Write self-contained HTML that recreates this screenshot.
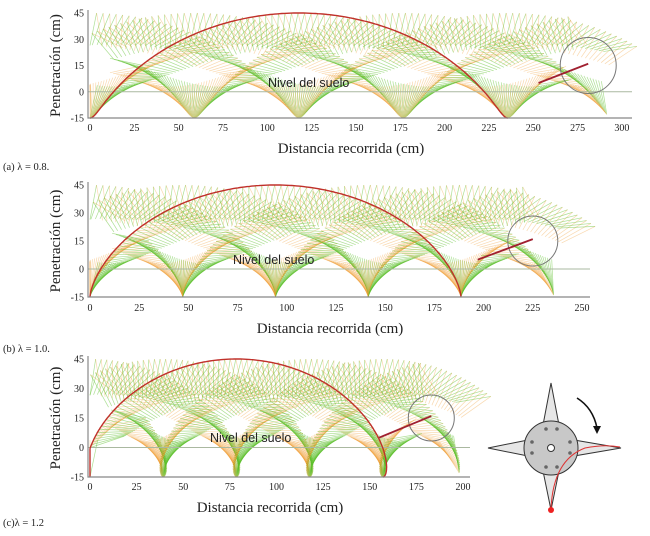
<!DOCTYPE html>
<html><head><meta charset="utf-8"><style>
body{margin:0;background:#fff;}
svg{display:block;}
.tk{font-family:"Liberation Serif",serif;font-size:10px;fill:#222;}
.tt{font-family:"Liberation Serif",serif;font-size:15px;fill:#222;}
.cap{font-family:"Liberation Serif",serif;font-size:10.5px;fill:#222;}
.nv{font-family:"Liberation Sans",sans-serif;font-size:12.5px;fill:#222;}
</style></head><body>
<svg id="fig" width="650" height="536" viewBox="0 0 650 536">
<g id="panels"></g>
<g stroke="#333" stroke-width="1">
  <polygon points="551,383 543,425 559,425" fill="#e6e6e6"/>
  <polygon points="551,510 543,471 559,471" fill="#e6e6e6"/>
  <polygon points="488,448 528,440 528,456" fill="#e6e6e6"/>
  <polygon points="621,448 574,440 574,456" fill="#e6e6e6"/>
  <circle cx="551" cy="448" r="27" fill="#c8c8c8"/>
  <circle cx="551" cy="448" r="3.5" fill="#fff"/>
  <g fill="#666" stroke="none">
    <circle cx="546" cy="429" r="1.8"/><circle cx="557" cy="429" r="1.8"/>
    <circle cx="546" cy="467" r="1.8"/><circle cx="557" cy="467" r="1.8"/>
    <circle cx="532" cy="442" r="1.8"/><circle cx="532" cy="453" r="1.8"/>
    <circle cx="570" cy="442" r="1.8"/><circle cx="570" cy="453" r="1.8"/>
  </g>
  <path d="M577,398 Q593,408 597,428" fill="none" stroke="#111" stroke-width="1.6"/>
  <polygon points="593,426 601,426 597,434" fill="#111" stroke="none"/>
  <path d="M551,509 Q553,460 585,448 Q605,444 620,447" fill="none" stroke="#d33" stroke-width="1"/>
  <circle cx="551" cy="510" r="3" fill="#e22" stroke="none"/>
</g>
</svg>
<script>
const lambdas=[0.8,1.0,1.2];
const captions=["(a) λ = 0.8.","(b) λ = 1.0.","(c)λ = 1.2"];
const xTicksA=[0,25,50,75,100,125,150,175,200,225,250,275,300];
const xTicksB=[0,25,50,75,100,125,150,175,200,225,250];
const xTicksC=[0,25,50,75,100,125,150,175,200];
const yTicks=[-15,0,15,30,45];
const travelEnd=[282,228,188];
const NS="http://www.w3.org/2000/svg";
const layout=[
 {x0:90,xs:1.773,axEnd:632,yTop:13,yBot:118,tickY:131,titleY:153,capY:170,nv:[268,87],circ:[281,15,28],ticks:xTicksA},
 {x0:90,xs:1.968,axEnd:590,yTop:185,yBot:297,tickY:311,titleY:333,capY:352,nv:[233,264],circ:[225,15,25],ticks:xTicksB},
 {x0:90,xs:1.865,axEnd:470,yTop:359,yBot:477,tickY:490,titleY:512,capY:526,nv:[210,442],circ:[183,15,23],ticks:xTicksC}
];
function mk(tag,attrs,parent){const e=document.createElementNS(NS,tag);for(const k in attrs)e.setAttribute(k,attrs[k]);parent.appendChild(e);return e;}
const root=document.getElementById('panels');
layout.forEach((L,i)=>{
 const g=mk('g',{},root);
 
 
 const ys=(L.yBot-L.yTop)/60;
 const X=v=>L.x0+Math.max(0,v)*L.xs, Y=v=>L.yBot-(Math.max(-15,Math.min(45,v))+15)*ys;
 const R=30, c=R/lambdas[i], hub=15;
 const marks=mk('g',{'stroke-width':'0.7'},g);
 
 
 const phiEnd=travelEnd[i]/c;
 for(let p=0;p<=phiEnd;p+=0.055){
  for(let k=0;k<4;k++){
   const a=p+k*Math.PI/2, cx=c*p;
   const tx=cx-R*Math.sin(a), ty=hub-R*Math.cos(a);
   const r2=0.4*R;
   const gx=cx-r2*Math.sin(a-0.35), gy=hub-r2*Math.cos(a-0.35);
   const ox=cx-r2*Math.sin(a+0.35), oy=hub-r2*Math.cos(a+0.35);
   if(tx<0) continue;
   mk('line',{x1:X(tx),y1:Y(ty),x2:X(gx),y2:Y(gy),stroke:'#5cc02a','stroke-opacity':0.5},marks);
   mk('line',{x1:X(tx),y1:Y(ty),x2:X(ox),y2:Y(oy),stroke:'#f09a30','stroke-opacity':0.38},marks);
  }
 }
 const gl=mk('line',{x1:L.x0-2,y1:Y(0),x2:L.axEnd,y2:Y(0),stroke:'#aab8a0','stroke-width':1},g);
 
 let d='';
 for(let p=0;p<=2*Math.PI+0.001;p+=0.02){const x=c*p-R*Math.sin(p),y=hub-R*Math.cos(p);d+=(d?'L':'M')+X(x).toFixed(1)+','+Y(y).toFixed(1);}
 const tr=mk('path',{d:d,fill:'none',stroke:'#c0302a','stroke-width':1.4},g);
 
 const ci=mk('circle',{cx:X(L.circ[0]),cy:Y(L.circ[1]),r:L.circ[2],fill:'none',stroke:'#777','stroke-width':1},g);
 
 const bl=mk('line',{x1:X(L.circ[0]-28),y1:Y(5),x2:X(L.circ[0]),y2:Y(16),stroke:'#a02030','stroke-width':1.8},g);
 
 const ax=mk('path',{d:`M${L.x0-2},${L.yTop-3}V${L.yBot}H${L.axEnd}`,fill:'none',stroke:'#888','stroke-width':1.2},g);
 
 L.ticks.forEach(t=>{const e=mk('text',{x:X(t),y:L.tickY,'text-anchor':'middle',class:'tk'},g);e.textContent=t;
  });
 yTicks.forEach(t=>{const e=mk('text',{x:L.x0-6,y:Y(t)+3.5,'text-anchor':'end',class:'tk'},g);e.textContent=t;
  });
 const xt=mk('text',{x:(L.x0+L.axEnd)/2-10,y:L.titleY,'text-anchor':'middle',class:'tt'},g);xt.textContent='Distancia recorrida (cm)';
 
 const yc=(L.yTop+L.yBot)/2;
 const yt=mk('text',{x:60,y:yc,'text-anchor':'middle',class:'tt',transform:`rotate(-90 60 ${yc})`},g);yt.textContent='Penetración (cm)';
 
 const nv=mk('text',{x:L.nv[0],y:L.nv[1],class:'nv'},g);nv.textContent='Nivel del suelo';
 
 const cp=mk('text',{x:3,y:L.capY,class:'cap'},g);cp.textContent=captions[i];
 
});
</script>
</body></html>
